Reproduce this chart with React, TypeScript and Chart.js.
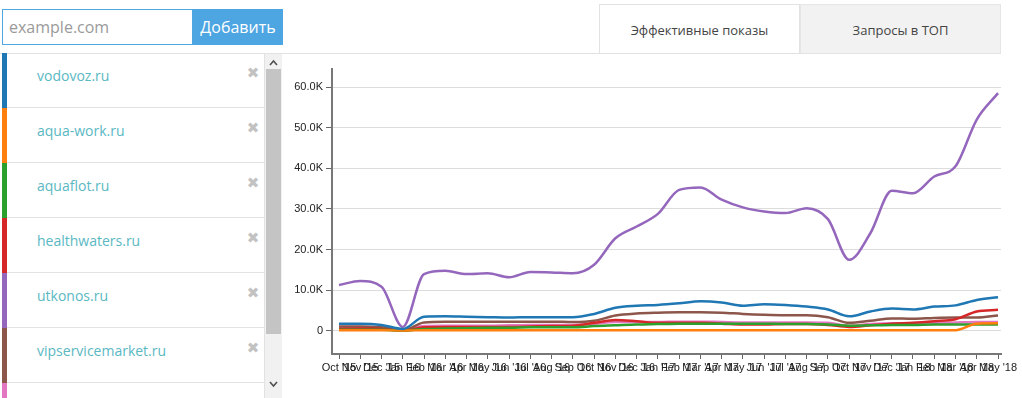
import React, { useEffect, useRef } from "react";
import { Chart, registerables } from "chart.js";

Chart.register(...registerables);

const months = [
  "Oct '15", "Nov '15", "Dec '15", "Jan '16", "Feb '16", "Mar '16", "Apr '16", "May '16",
  "Jun '16", "Jul '16", "Aug '16", "Sep '16", "Oct '16", "Nov '16", "Dec '16", "Jan '17",
  "Feb '17", "Mar '17", "Apr '17", "May '17", "Jun '17", "Jul '17", "Aug '17", "Sep '17",
  "Oct '17", "Nov '17", "Dec '17", "Jan '18", "Feb '18", "Mar '18", "Apr '18", "May '18",
];

const vodovoz = [1800, 1800, 1500, 500, 3500, 3600, 3500, 3400, 3300, 3400, 3400, 3400, 4200, 5700, 6200, 6400, 6800, 7300, 7000, 6200, 6600, 6400, 6000, 5300, 3600, 4800, 5500, 5300, 6000, 6300, 7600, 8300];
const aquaWork = [200, 200, 200, 100, 200, 200, 200, 200, 200, 200, 200, 200, 200, 200, 200, 200, 200, 200, 200, 200, 200, 200, 200, 200, 200, 200, 200, 200, 200, 200, 1800, 1900];
const aquaflot = [300, 300, 300, 100, 500, 600, 700, 800, 800, 900, 900, 900, 1200, 1400, 1600, 1700, 1800, 1800, 1800, 1800, 1800, 1700, 1700, 1600, 1300, 1400, 1500, 1500, 1600, 1600, 1600, 1600];
const healthwaters = [500, 600, 500, 100, 900, 1000, 1000, 1000, 1000, 1100, 1200, 1300, 2000, 2700, 2400, 2000, 2000, 2000, 1800, 1600, 1600, 1700, 1700, 1500, 1000, 1400, 1800, 2000, 2400, 2900, 4800, 5200];
const utkonos = [11300, 12300, 10900, 1000, 14000, 14800, 14000, 14200, 13200, 14500, 14400, 14200, 16300, 22800, 25700, 28800, 34700, 35300, 32300, 30400, 29400, 29000, 30200, 27500, 17500, 24100, 34500, 33900, 38000, 40500, 52000, 58500];
const vipservicemarket = [1100, 1100, 900, 200, 2100, 2300, 2300, 2300, 2300, 2300, 2300, 2200, 2500, 3800, 4300, 4500, 4600, 4600, 4500, 4200, 4000, 3900, 3900, 3400, 2000, 2500, 3100, 3000, 3200, 3300, 3300, 3800];
const seventh = [1000, 1000, 800, 200, 1200, 1300, 1300, 1300, 1400, 1500, 1500, 1500, 1700, 2200, 2200, 2200, 2300, 2300, 2200, 2100, 2100, 2100, 2100, 2000, 1300, 1700, 1900, 1900, 2000, 2100, 2200, 2200];

const domains = ["vodovoz.ru", "aqua-work.ru", "aquaflot.ru", "healthwaters.ru", "utkonos.ru", "vipservicemarket.ru", ""];
const colors = ["#1f77b4", "#ff7f0e", "#2ca02c", "#d62728", "#9467bd", "#8c564b", "#e377c2"];
const seriesValues = [vodovoz, aquaWork, aquaflot, healthwaters, utkonos, vipservicemarket, seventh];

const yTicks = [0, 10000, 20000, 30000, 40000, 50000, 60000];

const UI_FONT = "'Open Sans', 'Noto Sans', sans-serif";

export default function App() {
  const canvasRef = useRef<HTMLCanvasElement | null>(null);

  useEffect(() => {
    const canvas = canvasRef.current;
    if (!canvas) return;
    const tickFont = { family: "'Liberation Sans', Arial, sans-serif", size: 11 };
    const chart = new Chart(canvas, {
      type: "line",
      data: {
        datasets: seriesValues.map((vals, k) => ({
          label: domains[k] || "other",
          data: vals.map((v, i) => ({ x: i, y: v })),
          borderColor: colors[k],
          backgroundColor: colors[k],
          borderWidth: 2.5,
          pointRadius: 0,
          cubicInterpolationMode: "monotone",
          fill: false,
        })),
      },
      options: {
        animation: false,
        responsive: false,
        maintainAspectRatio: false,
        layout: { padding: { top: 14, right: 21, left: 0, bottom: 0 } },
        plugins: { legend: { display: false }, tooltip: { enabled: false } },
        scales: {
          x: {
            type: "linear",
            min: -0.33,
            max: 31.14,
            afterBuildTicks: (ax: any) => {
              ax.ticks = months.map((_, i) => ({ value: i }));
            },
            afterFit: (s: any) => {
              s.height = 44;
            },
            ticks: {
              autoSkip: false,
              maxRotation: 0,
              minRotation: 0,
              padding: 2,
              color: "#222",
              font: tickFont,
              callback: (v: any) => months[Math.round(Number(v))] ?? "",
            },
            grid: { drawOnChartArea: false, drawTicks: true, tickLength: 5, tickColor: "#666" },
            border: { color: "#777", width: 2 },
          },
          y: {
            type: "linear",
            min: -5660,
            max: 64430,
            afterBuildTicks: (ax: any) => {
              ax.ticks = yTicks.map((v) => ({ value: v }));
            },
            afterFit: (s: any) => {
              s.width = 42;
            },
            ticks: {
              padding: 3,
              color: "#222",
              font: tickFont,
              callback: (v: any) => (Number(v) === 0 ? "0" : (Number(v) / 1000).toFixed(1) + "K"),
            },
            grid: { color: "#dcdcdc", tickColor: "#666", tickLength: 6, lineWidth: 1 },
            border: { color: "#777", width: 2 },
          },
        },
      },
    } as any);
    return () => chart.destroy();
  }, []);

  const itemTop = (k: number) => 53 + 55 * k;

  return (
    <div style={{ position: "absolute", left: 0, top: 0, width: 1022, height: 398, overflow: "hidden", background: "#fff", fontFamily: UI_FONT }}>
      {/* input */}
      <div style={{ position: "absolute", left: 2, top: 9, width: 191, height: 36, boxSizing: "border-box", border: "1px solid #4fa7e2", background: "#fff" }}>
        <span style={{ position: "absolute", left: 6, top: 0, lineHeight: "34px", fontSize: 16, color: "#9a9a9a" }}>example.com</span>
      </div>
      <div style={{ position: "absolute", left: 193, top: 9, width: 90, height: 36, background: "#4da5e2", color: "#fff", fontSize: 16, lineHeight: "36px", textAlign: "center" }}>
        Добавить
      </div>

      {/* top separator */}
      <div style={{ position: "absolute", left: 0, top: 53, width: 1001, height: 1, background: "#e2e2e2" }} />

      {/* list */}
      {domains.map((d, k) => (
        <div key={k} style={{ position: "absolute", left: 2, top: itemTop(k), width: 262, height: 55 }}>
          <div style={{ position: "absolute", left: 0, top: 0, width: 5, height: 55, background: colors[k] }} />
          <div style={{ position: "absolute", left: 5, top: 54, width: 257, height: 1, background: "#e2e2e2" }} />
          {d && (
            <span style={{ position: "absolute", left: 35, top: 12, lineHeight: "22px", fontSize: 14, color: "#5ab8c3", whiteSpace: "nowrap" }}>{d}</span>
          )}
          {d && (
            <span style={{ position: "absolute", left: 242, top: 10, width: 18, textAlign: "center", lineHeight: "20px", fontSize: 15, color: "#c2c2c2", fontFamily: "'DejaVu Sans', sans-serif" }}>✖</span>
          )}
        </div>
      ))}
      <div style={{ position: "absolute", left: 264, top: 53, width: 1, height: 345, background: "#e2e2e2" }} />

      {/* scrollbar */}
      <div style={{ position: "absolute", left: 265, top: 54, width: 17, height: 344, background: "#f1f1f1" }} />
      <div style={{ position: "absolute", left: 266, top: 69, width: 15, height: 265, background: "#c4c4c4" }} />
      <svg style={{ position: "absolute", left: 265, top: 54 }} width={17} height={344}>
        <polyline points="5,11 8.5,7 12,11" fill="none" stroke="#505050" strokeWidth={1.6} />
        <polyline points="5,328 8.5,332 12,328" fill="none" stroke="#505050" strokeWidth={1.6} />
      </svg>

      {/* tabs */}
      <div style={{ position: "absolute", left: 599, top: 4, width: 201, height: 49, boxSizing: "border-box", border: "1px solid #e2e2e2", borderBottom: "none", background: "#fff", fontSize: 13, color: "#444", textAlign: "center", lineHeight: "50px" }}>
        Эффективные показы
      </div>
      <div style={{ position: "absolute", left: 800, top: 4, width: 201, height: 49, boxSizing: "border-box", border: "1px solid #e6e6e6", borderBottom: "none", background: "#f2f2f2", fontSize: 13, color: "#444", textAlign: "center", lineHeight: "50px" }}>
        Запросы в ТОП
      </div>

      {/* chart */}
      <canvas ref={canvasRef} width={732} height={343} style={{ position: "absolute", left: 290, top: 55, width: 732, height: 343, display: "block" }} />
    </div>
  );
}
